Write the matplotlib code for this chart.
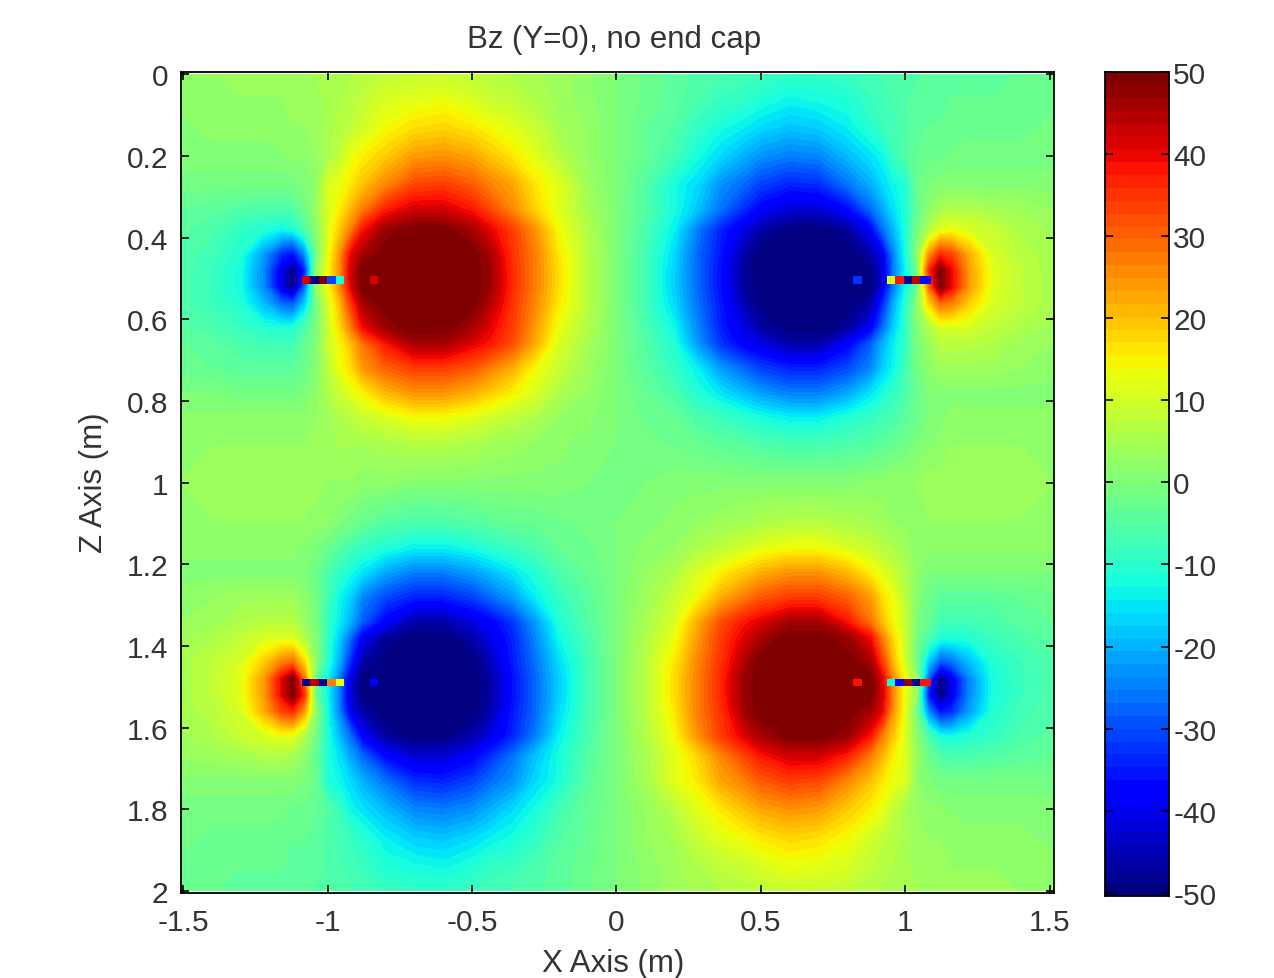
import numpy as np
import matplotlib
matplotlib.use('Agg')
import matplotlib.pyplot as plt

x_nodes = [-1.52,-1.4,-1.3,-1.22,-1.16,-1.12,-1.08,-1.04,-1.0,-0.96,-0.92,-0.88,-0.8,-0.7,-0.6,-0.5,-0.44,-0.36,-0.28,-0.2,-0.1,0.0,
           0.1,0.2,0.28,0.36,0.44,0.5,0.6,0.7,0.8,0.88,0.92,0.96,1.0,1.04,1.08,1.12,1.16,1.22,1.3,1.4,1.52]
z_nodes = [0,0.06,0.13,0.2,0.27,0.33,0.38,0.44,0.48,0.52,0.56,0.62,0.66,0.72,0.78,0.84,0.9,1.0,
           1.1,1.16,1.22,1.28,1.34,1.38,1.44,1.48,1.52,1.56,1.62,1.67,1.73,1.8,1.87,1.94,2.0]

# field, one row per z
bz = [
 [2,3,4,4,4,4,4,5,5,5,6,7,8,9,9,8,7,6,5,4,2,0, -2,-4,-5,-6,-7,-8,-9,-9,-8,-7,-6,-5,-5,-5,-4,-4,-4,-4,-4,-3,-2],
 [2,3,3,3,3,4,4,4,5,6,7,8,11,12,13,11,9,8,6,4,2,0, -2,-4,-6,-8,-9,-11,-13,-12,-11,-8,-7,-6,-5,-4,-4,-4,-3,-3,-3,-3,-2],
 [1,2,2,2,3,3,3,4,5,7,8,10,14,17,18,16,14,12,9,5,3,0, -3,-5,-9,-12,-14,-16,-18,-17,-14,-10,-8,-7,-5,-4,-3,-3,-3,-2,-2,-2,-1],
 [1,1,1,1,1,2,2,3,5,8,13,15,19,24,25,23,20,16,12,7,3,0, -3,-7,-12,-16,-20,-23,-25,-24,-19,-15,-13,-8,-5,-3,-2,-2,-1,-1,-1,-1,-1],
 [-1,-1,-1,-1,-1,-1,0,2,11,13,16,20,26,33,34,31,27,23,16,12,4,0, -5,-12,-16,-23,-27,-31,-34,-33,-26,-20,-16,-13,-11,-2,0,1,1,1,1,1,1],
 [-3,-4,-5,-6,-6,-5,-2,3,11,15,21,27,37,42,42,38,33,26,18,12,5,0, -5,-12,-18,-26,-33,-38,-42,-42,-37,-27,-21,-15,-11,-3,2,5,6,6,5,4,3],
 [-4,-6,-9,-11,-13,-12,-6,1,11,19,27,38,47,50,50,46,41,34,25,14,6,0, -6,-14,-25,-34,-41,-46,-50,-50,-47,-38,-27,-19,-11,-1,6,12,13,11,9,6,4],
 [-5,-7,-11,-22,-33,-36,-24,-2,12,24,40,46,50,50,50,50,46,35,27,16,7,0, -7,-16,-27,-35,-46,-50,-50,-50,-50,-46,-40,-24,-12,2,24,36,33,22,11,7,5],
 [-5,-8,-12,-24,-40,-50,-35,2,13,25,42,50,50,50,50,50,47,36,27,17,7,0, -7,-17,-27,-36,-47,-50,-50,-50,-50,-50,-42,-25,-13,-2,35,50,40,24,12,8,5],
 [-5,-8,-12,-24,-40,-50,-28,3,13,25,41,50,50,50,50,50,47,36,27,17,7,0, -7,-17,-27,-36,-47,-50,-50,-50,-50,-50,-41,-25,-13,-3,28,50,40,24,12,8,5],
 [-5,-8,-11,-19,-27,-29,-18,-2,10,20,34,46,50,50,50,50,45,35,26,16,7,0, -7,-16,-26,-35,-45,-50,-50,-50,-50,-46,-34,-20,-10,2,18,29,27,19,11,8,5],
 [-4,-6,-8,-11,-11,-11,-6,-1,9,17,27,39,47,50,50,46,41,34,24,13,6,0, -6,-13,-24,-34,-41,-46,-50,-50,-47,-39,-27,-17,-9,1,6,11,11,11,8,6,4],
 [-3,-4,-6,-7,-7,-7,-3,0,9,14,20,28,38,46,46,41,38,32,22,11,5,0, -5,-11,-22,-32,-38,-41,-46,-46,-38,-28,-20,-14,-9,0,3,7,7,7,6,4,3],
 [-2,-3,-4,-4,-4,-4,-2,1,7,13,17,24,30,34,34,31,27,22,14,9,4,0, -4,-9,-14,-22,-27,-31,-34,-34,-30,-24,-17,-13,-7,-1,2,4,4,4,4,3,2],
 [0,0,-1,-1,-1,-1,0,2,6,9,12,15,21,25,25,22,19,15,11,6,3,0, -3,-6,-11,-15,-19,-22,-25,-25,-21,-15,-12,-9,-6,-2,0,1,1,1,1,1,1],
 [2,2,2,2,2,2,2,3,4,6,7,9,11,14,14,12,10,8,6,3,2,0, -2,-3,-6,-8,-10,-12,-14,-14,-11,-9,-7,-6,-4,-2,0,1,2,2,2,2,2],
 [3,3,3,3,3,3,3,4,4,5,5,5,6,7,7,6,5,4,3,2,1,0, -1,-2,-3,-4,-5,-6,-7,-7,-6,-5,-4,-3,-2,0,1,2,3,3,3,3,3],
 [3,4,4,4,4,4,4,4,3,3,3,2,2,1,1,1,1,1,1,1,0,0, 0,1,1,1,1,1,1,1,1,2,2,3,3,3,4,4,4,4,4,4,3],
 [3,3,3,3,3,3,3,2,2,0,-1,-3,-5,-6,-6,-5,-4,-3,-3,-2,-1,0, 1,2,3,4,5,6,7,7,6,5,4,3,3,3,3,3,3,3,3,3,3],
 [2,2,2,2,2,2,1,0,-2,-5,-7,-9,-11,-14,-14,-12,-10,-8,-6,-3,-2,0, 2,3,6,8,10,12,14,14,11,9,7,6,4,2,2,2,2,2,2,2,2],
 [1,1,1,1,1,1,0,-2,-6,-9,-12,-15,-21,-25,-25,-22,-19,-15,-11,-6,-3,0, 3,6,11,15,19,22,25,25,21,15,12,9,6,2,0,0,0,0,0,0,0],
 [2,3,4,4,4,4,2,-1,-7,-13,-17,-24,-30,-34,-34,-31,-27,-22,-14,-9,-4,0, 4,9,14,22,27,31,34,34,30,24,17,13,7,1,-2,-4,-4,-4,-4,-3,-2],
 [3,4,6,7,7,7,3,0,-9,-14,-20,-28,-38,-46,-46,-41,-38,-32,-22,-11,-5,0, 5,11,22,32,38,41,46,46,38,28,20,14,9,0,-3,-7,-7,-7,-6,-4,-3],
 [4,6,8,11,11,11,6,1,-9,-17,-27,-39,-47,-50,-50,-46,-41,-34,-24,-13,-6,0, 6,13,24,34,41,46,50,50,47,39,27,17,9,-1,-6,-11,-11,-11,-8,-6,-4],
 [5,8,11,19,27,29,18,2,-10,-20,-34,-46,-50,-50,-50,-50,-45,-35,-26,-16,-7,0, 7,16,26,35,45,50,50,50,50,46,34,20,10,-2,-18,-29,-27,-19,-11,-8,-5],
 [5,8,12,24,40,50,28,-3,-13,-25,-41,-50,-50,-50,-50,-50,-47,-36,-27,-17,-7,0, 7,17,27,36,47,50,50,50,50,50,41,25,13,3,-28,-50,-40,-24,-12,-8,-5],
 [5,8,12,24,40,50,35,-2,-13,-25,-42,-50,-50,-50,-50,-50,-47,-36,-27,-17,-7,0, 7,17,27,36,47,50,50,50,50,50,42,25,13,2,-35,-50,-40,-24,-12,-8,-5],
 [5,7,11,22,33,36,24,2,-12,-24,-40,-46,-50,-50,-50,-50,-46,-35,-27,-16,-7,0, 7,16,27,35,46,50,50,50,50,46,40,24,12,-2,-24,-36,-33,-22,-11,-7,-5],
 [4,6,9,11,13,12,6,-1,-11,-19,-27,-38,-47,-50,-50,-46,-41,-34,-25,-14,-6,0, 6,14,25,34,41,46,50,50,47,38,27,19,11,1,-6,-12,-13,-11,-9,-6,-4],
 [3,4,5,6,6,5,2,-3,-11,-15,-21,-27,-37,-42,-42,-38,-33,-26,-18,-12,-5,0, 5,12,18,26,33,38,42,42,37,27,21,15,11,3,-2,-5,-6,-6,-5,-4,-3],
 [1,1,1,1,1,1,0,-2,-11,-13,-16,-20,-26,-33,-34,-31,-27,-23,-16,-12,-4,0, 5,12,16,23,27,31,34,33,26,20,16,13,11,2,0,-1,-1,-1,-1,-1,-1],
 [-1,-1,-1,-1,-1,-2,-2,-3,-5,-8,-13,-15,-19,-24,-25,-23,-20,-16,-12,-7,-3,0, 3,7,12,16,20,23,25,24,19,15,13,8,5,3,2,2,1,1,1,1,1],
 [-1,-2,-2,-2,-3,-3,-3,-4,-5,-7,-8,-10,-14,-17,-18,-16,-14,-12,-9,-5,-3,0, 3,5,9,12,14,16,18,17,14,10,8,7,5,4,3,3,3,2,2,2,1],
 [-2,-3,-3,-3,-3,-4,-4,-4,-5,-6,-7,-8,-11,-12,-13,-11,-9,-8,-6,-4,-2,0, 2,4,6,8,9,11,13,12,11,8,7,6,5,4,4,4,3,3,3,3,2],
 [-2,-3,-4,-4,-4,-4,-4,-5,-5,-5,-6,-7,-8,-9,-9,-8,-7,-6,-5,-4,-2,0, 2,4,5,6,7,8,9,9,8,7,6,5,5,5,4,4,4,4,4,3,2],
]

# single grid cells along the coil legs
strip_left_x = [-1.088,-1.059,-1.030,-1.001,-0.972,-0.943]
strip_right_x = [0.936,0.965,0.994,1.023,1.052,1.088]
strip_top_z = [0.4935,0.513]
strip_bot_z = [1.48,1.497]
strip_top_left = [42,-50,50,-30,-12]
strip_top_right = [12,38,-47,45,-38]
strip_bot_left = [-47,45,-47,28,13]
strip_bot_right = [-12,-36,47,-47,38]
dot_left_x = [-0.854,-0.826]
dot_right_x = [0.818,0.848]
dot_values = [42,-32,-38,38]

x_ticks = [-1.5,-1,-0.5,0,0.5,1,1.5]
x_labels = ['-1.5','-1','-0.5','0','0.5','1','1.5']
z_ticks = [0,0.2,0.4,0.6,0.8,1,1.2,1.4,1.6,1.8,2]
z_labels = ['0','0.2','0.4','0.6','0.8','1','1.2','1.4','1.6','1.8','2']
cbar_ticks = [-50,-40,-30,-20,-10,0,10,20,30,40,50]

plt.rcParams['font.family'] = ['Liberation Sans', 'DejaVu Sans']
W, H = 1274, 979
TXT = '#333333'

fig = plt.figure(figsize=(W/100, H/100), dpi=100)
ax = fig.add_axes([181/W, 1-894/H, 873/W, 821/H])
cmap = plt.get_cmap('jet', 64)
levels = np.linspace(-50, 50, 65)
ax.contourf(x_nodes, z_nodes, np.array(bz), levels=levels, cmap=cmap, vmin=-50, vmax=50, extend='both')

for xe, ze, vals in [(strip_left_x, strip_top_z, strip_top_left), (strip_right_x, strip_top_z, strip_top_right),
                     (strip_left_x, strip_bot_z, strip_bot_left), (strip_right_x, strip_bot_z, strip_bot_right)]:
    ax.pcolormesh(xe, ze, np.array([vals]), cmap=cmap, vmin=-50, vmax=50)
k = 0
for xe, ze in [(dot_left_x, strip_top_z), (dot_right_x, strip_top_z), (dot_left_x, strip_bot_z), (dot_right_x, strip_bot_z)]:
    ax.pcolormesh(xe, ze, np.array([[dot_values[k]]]), cmap=cmap, vmin=-50, vmax=50)
    k += 1

ax.set_xlim(-1.507, 1.514)
ax.set_ylim(2.005, -0.006)
ax.set_xticks(x_ticks)
ax.set_xticklabels(x_labels)
ax.set_yticks(z_ticks)
ax.set_yticklabels(z_labels)
ax.tick_params(direction='in', top=True, right=True, length=6, width=1.2, labelsize=21.5, labelcolor=TXT)
ax.tick_params(axis='x', pad=11)
ax.tick_params(axis='y', pad=9)
for s in ax.spines.values():
    s.set_linewidth(1.3)
fig.text(614/W, 1-40/H, 'Bz (Y=0), no end cap', fontsize=22.5, color=TXT, ha='center', va='center')
fig.text(613/W, 1-964/H, 'X Axis (m)', fontsize=22.5, color=TXT, ha='center', va='center')
fig.text(94/W, 1-483/H, 'Z Axis (m)', fontsize=22.5, color=TXT, ha='center', va='center', rotation=90)

cax = fig.add_axes([1105/W, 1-897/H, 64/W, 824/H])
cax.imshow(np.linspace(-50, 50, 64).reshape(-1, 1), cmap=cmap, vmin=-50, vmax=50, origin='lower',
           aspect='auto', extent=[0, 1, -50.4, 50])
cax.set_xticks([])
cax.set_yticks(cbar_ticks)
cax.set_yticklabels([str(t) for t in cbar_ticks])
cax.tick_params(axis='y', direction='in', left=True, right=True, labelleft=False, labelright=True,
                length=6, width=1.2, labelsize=21.5, labelcolor=TXT, pad=3)
for s in cax.spines.values():
    s.set_linewidth(1.3)

fig.savefig('out.png', dpi=100)
plt.close()
